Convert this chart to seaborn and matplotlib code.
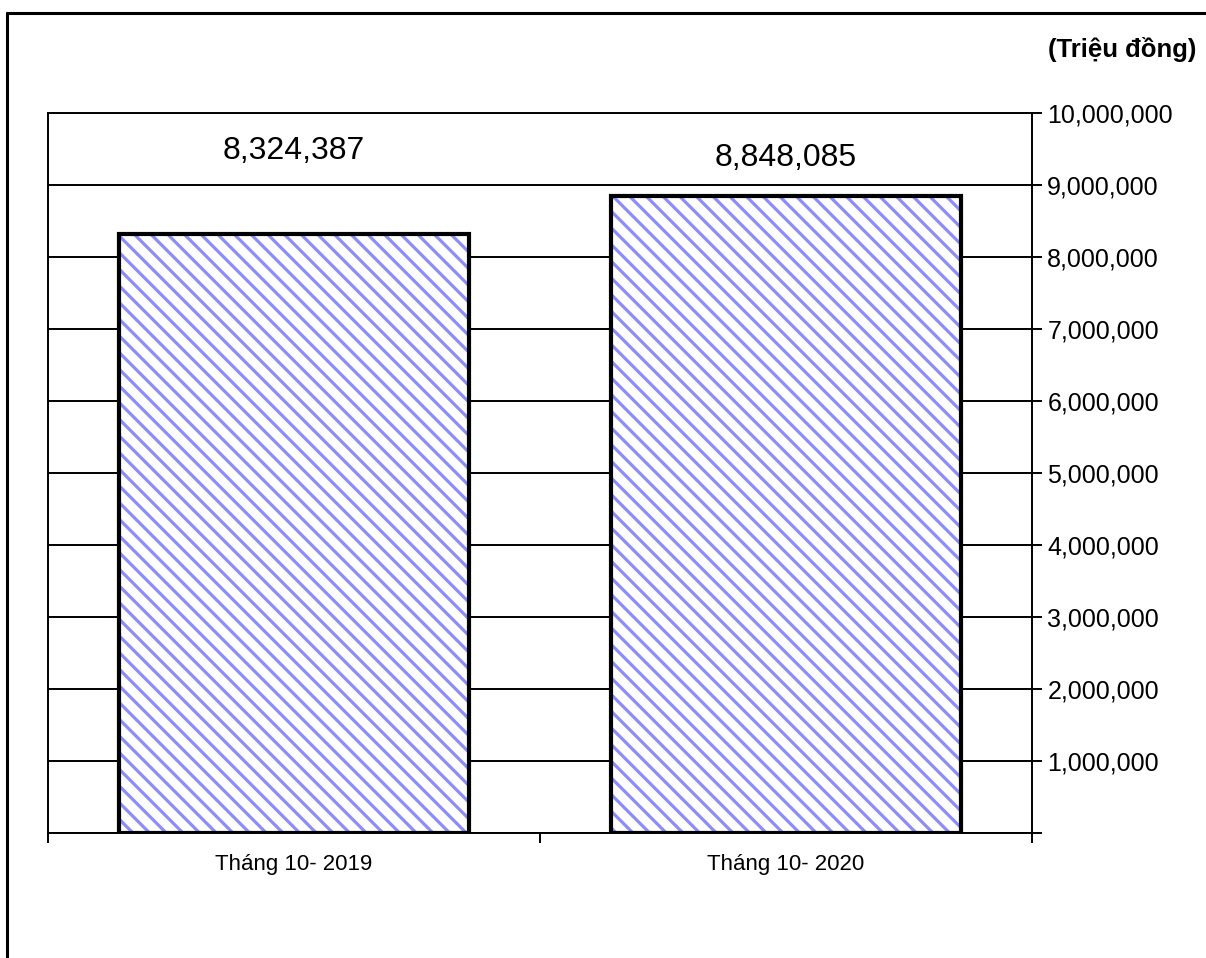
import matplotlib
matplotlib.use("Agg")
import matplotlib.pyplot as plt
from matplotlib.ticker import FixedLocator, FuncFormatter
from matplotlib.lines import Line2D
import seaborn as sns
import pandas as pd

# ---- data ----
categories = ["Tháng 10- 2019", "Tháng 10- 2020"]
values = [8324387, 8848085]
unit_label = "(Triệu đồng)"
y_ticks = [0, 1000000, 2000000, 3000000, 4000000, 5000000,
           6000000, 7000000, 8000000, 9000000, 10000000]

df = pd.DataFrame({"cat": categories, "val": values})

sns.set_theme(style="white")
plt.rcParams["font.family"] = ["Liberation Sans", "DejaVu Sans"]
plt.rcParams["hatch.linewidth"] = 2.3

fig = plt.figure(figsize=(12.06, 9.58), dpi=100)
ax = fig.add_axes([48 / 1206, 1 - 833 / 958, (1032 - 48) / 1206, (833 - 113) / 958])

hatch_col = "#8C8CFA"
bar_w = 0.713
# hatched fill layer
sns.barplot(data=df, x="cat", y="val", order=categories, ax=ax, width=bar_w,
            color="white", edgecolor=hatch_col, linewidth=0, hatch="\\\\",
            errorbar=None, saturation=1, zorder=3)
# black outline layer
sns.barplot(data=df, x="cat", y="val", order=categories, ax=ax, width=bar_w,
            fill=False, edgecolor="black", linewidth=3.0,
            errorbar=None, zorder=4)

ax.set_xlim(-0.5, len(categories) - 0.5)
ax.set_ylim(0, 10000000)
ax.set_xlabel("")
ax.set_ylabel("")

# gridlines
ax.yaxis.grid(True, color="black", linewidth=1.4)
ax.xaxis.grid(False)
ax.set_axisbelow(True)

# y axis on right
ax.yaxis.tick_right()
ax.yaxis.set_major_locator(FixedLocator(y_ticks))
ax.yaxis.set_major_formatter(FuncFormatter(lambda v, p: "" if v == 0 else f"{int(v):,}"))
ax.tick_params(axis="y", which="major", right=True, left=False, length=7,
               width=1.4, color="black", direction="out", pad=4,
               labelsize=18, labelcolor="black")

# x axis: labels at centers, tick marks at boundaries
ax.set_xticks(range(len(categories)))
ax.set_xticklabels(categories)
ax.tick_params(axis="x", which="major", length=0, pad=15, labelsize=16, labelcolor="black")
ax.xaxis.set_minor_locator(FixedLocator([i - 0.5 for i in range(len(categories) + 1)]))
ax.tick_params(axis="x", which="minor", bottom=True, length=7, width=1.4,
               color="black", direction="out")

for s in ax.spines.values():
    s.set_visible(True)
    s.set_color("black")
    s.set_linewidth(1.4)

# value labels (baseline offsets above bar tops)
offsets_pt = [54, 21.6]
for i, (v, off) in enumerate(zip(values, offsets_pt)):
    ax.annotate(f"{v:,}", xy=(i, v), xytext=(0, off), textcoords="offset points",
                ha="center", va="baseline", fontsize=23, color="black")

# unit label
fig.text(1196 / 1206, 1 - 50 / 958, unit_label, ha="right", va="center",
         fontsize=18.5, fontweight="bold", color="black")

# outer frame (partial, as in reference)
fig.add_artist(Line2D([6.5 / 1206, 6.5 / 1206], [0, 1 - 13 / 958], transform=fig.transFigure,
                      color="black", linewidth=2.2))
fig.add_artist(Line2D([6.5 / 1206, 1], [1 - 13 / 958, 1 - 13 / 958], transform=fig.transFigure,
                      color="black", linewidth=2.2))

fig.savefig("out.png", dpi=100, facecolor="white")
